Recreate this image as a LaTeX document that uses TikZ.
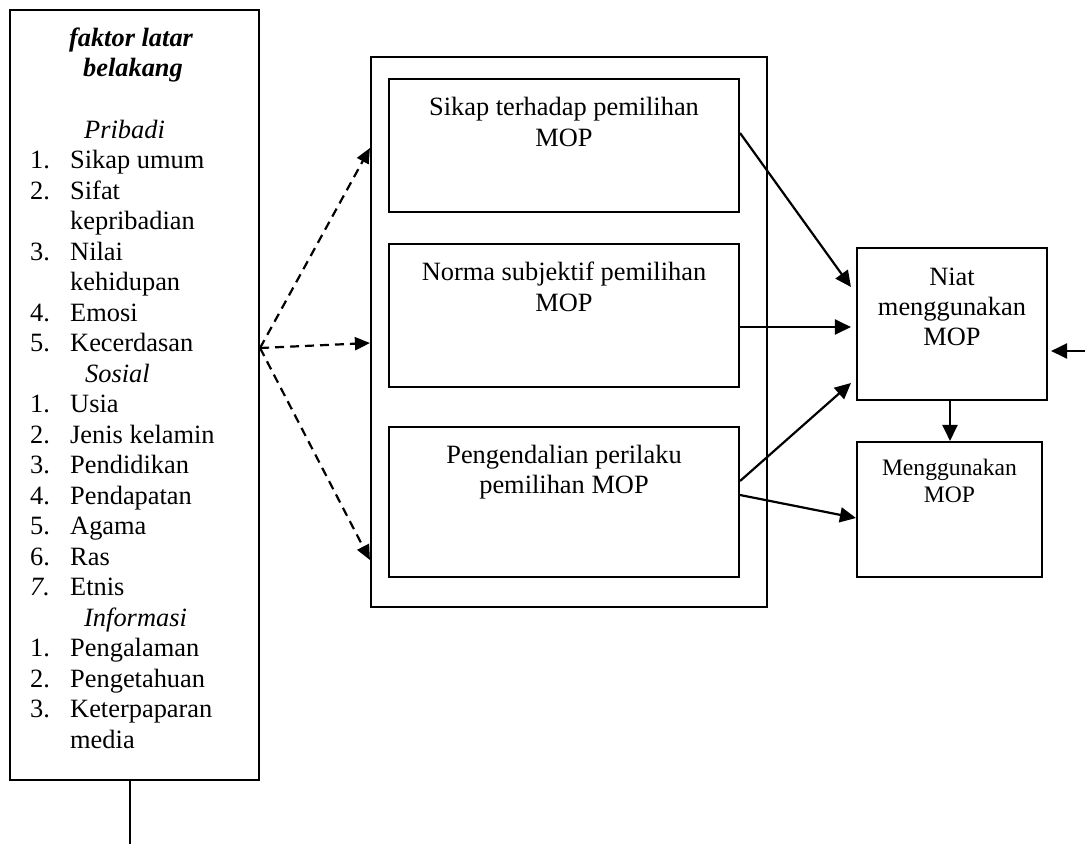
\documentclass[tikz,border=0pt]{standalone}
\usepackage{fontspec}
\setmainfont{Liberation Serif}
\usetikzlibrary{arrows.meta}
\tikzset{
  box/.style={draw, line width=2.1pt, inner sep=0pt, fill=none},
  txt/.style={anchor=base, inner sep=0pt, font=\fontsize{26.4}{30.5}\selectfont},
  txtl/.style={anchor=base west, inner sep=0pt, font=\fontsize{26.4}{30.5}\selectfont},
  txts/.style={anchor=base, inner sep=0pt, font=\fontsize{23.6}{27}\selectfont},
  conn/.style={line width=2.2pt, -{Triangle[length=16pt,width=15pt]}},
  dconn/.style={line width=2.2pt, dash pattern=on 9pt off 6pt, -{Triangle[length=15pt,width=13pt]}},
}
\begin{document}
\begin{tikzpicture}[x=1pt,y=-1pt]
\useasboundingbox[fill=white] (0,0) rectangle (1085,844);
% boxes
\node[box, minimum width=249pt, minimum height=770pt] (left) at (134.5,395) {};
\node[box, minimum width=396pt, minimum height=550pt] (outer) at (569,332) {};
\node[box, minimum width=350pt, minimum height=133pt] (sikap) at (564,145.5) {};
\node[box, minimum width=350pt, minimum height=143pt] (norma) at (564,315.5) {};
\node[box, minimum width=350pt, minimum height=150pt] (peng) at (564,502) {};
\node[box, minimum width=190pt, minimum height=152pt] (niat) at (952,324) {};
\node[box, minimum width=185pt, minimum height=135pt] (meng) at (949.5,509.5) {};
% left box text
\node[txt, font=\fontsize{26.4}{30.5}\selectfont\bfseries\itshape] (t1) at (131,46) {faktor latar};
\node[txt, font=\fontsize{26.4}{30.5}\selectfont\bfseries\itshape] (t2) at (133,76) {belakang};
\node[txtl, font=\fontsize{26.4}{30.5}\selectfont\itshape] (h1) at (84,138) {Pribadi};
\node[txtl] (n1) at (30,168.5) {1.}; \node[txtl] (l1) at (70,168.5) {Sikap umum};
\node[txtl] (n2) at (30,199) {2.}; \node[txtl] (l2) at (70,199) {Sifat};
\node[txtl] (l3) at (70,229.5) {kepribadian};
\node[txtl] (n3) at (30,260) {3.}; \node[txtl] (l4) at (70,260) {Nilai};
\node[txtl] (l5) at (70,290.5) {kehidupan};
\node[txtl] (n4) at (30,321) {4.}; \node[txtl] (l6) at (70,321) {Emosi};
\node[txtl] (n5) at (30,351.5) {5.}; \node[txtl] (l7) at (70,351.5) {Kecerdasan};
\node[txtl, font=\fontsize{26.4}{30.5}\selectfont\itshape] (h2) at (85,382) {Sosial};
\node[txtl] (s1) at (30,412.5) {1.}; \node[txtl] (m1) at (70,412.5) {Usia};
\node[txtl] (s2) at (30,443) {2.}; \node[txtl] (m2) at (70,443) {Jenis kelamin};
\node[txtl] (s3) at (30,473.5) {3.}; \node[txtl] (m3) at (70,473.5) {Pendidikan};
\node[txtl] (s4) at (30,504) {4.}; \node[txtl] (m4) at (70,504) {Pendapatan};
\node[txtl] (s5) at (30,534.5) {5.}; \node[txtl] (m5) at (70,534.5) {Agama};
\node[txtl] (s6) at (30,565) {6.}; \node[txtl] (m6) at (70,565) {Ras};
\node[txtl] (s7) at (30,595.5) {\itshape 7.}; \node[txtl] (m7) at (70,595.5) {Etnis};
\node[txtl, font=\fontsize{26.4}{30.5}\selectfont\itshape] (h3) at (84,626) {Informasi};
\node[txtl] (i1) at (30,656.5) {1.}; \node[txtl] (j1) at (70,656.5) {Pengalaman};
\node[txtl] (i2) at (30,687) {2.}; \node[txtl] (j2) at (70,687) {Pengetahuan};
\node[txtl] (i3) at (30,717.5) {3.}; \node[txtl] (j3) at (70,717.5) {Keterpaparan};
\node[txtl] (j4) at (70,748) {media};
% middle texts
\node[txt] (a1) at (564,115) {Sikap terhadap pemilihan};
\node[txt] (a2) at (564,146) {MOP};
\node[txt] (b1) at (564,280) {Norma subjektif pemilihan};
\node[txt] (b2) at (564,311) {MOP};
\node[txt] (c1) at (564,463) {Pengendalian perilaku};
\node[txt] (c2) at (564,493) {pemilihan MOP};
% right texts
\node[txt] (d1) at (952,285) {Niat};
\node[txt] (d2) at (952,315) {menggunakan};
\node[txt] (d3) at (952,345) {MOP};
\node[txts] (e1) at (949.5,475) {Menggunakan};
\node[txts] (e2) at (949.5,502) {MOP};
% free ends
\coordinate (rin) at (1085,351);
\coordinate (bot) at (130,844);
% connectors
\draw[dconn] ([yshift=47pt]left.east) -- ([yshift=184pt]outer.west);
\draw[dconn] ([yshift=47pt]left.east) -- ([yshift=-11pt]outer.west);
\draw[dconn] ([yshift=47pt]left.east) -- ([yshift=-228pt]outer.west);
\draw[conn] ([yshift=12.5pt]sikap.east) -- ([yshift=37pt,xshift=-5pt]niat.west);
\draw[conn] ([yshift=-3pt]niat.west -| norma.east) -- ([yshift=-3pt,xshift=-5pt]niat.west);
\draw[conn] ([yshift=21pt]peng.east) -- ([yshift=-59pt,xshift=-5pt]niat.west);
\draw[conn] ([yshift=7pt]peng.east) -- ([yshift=-8.5pt]meng.west);
\draw[conn] ([xshift=-2pt]niat.south) -- ([xshift=-2pt]niat.south |- meng.north);
\draw[conn] (rin) -- ([yshift=-27pt,xshift=3pt]niat.east);
\draw[line width=2.1pt] ([xshift=-4.5pt]left.south) -- (bot);
\end{tikzpicture}
\end{document}
